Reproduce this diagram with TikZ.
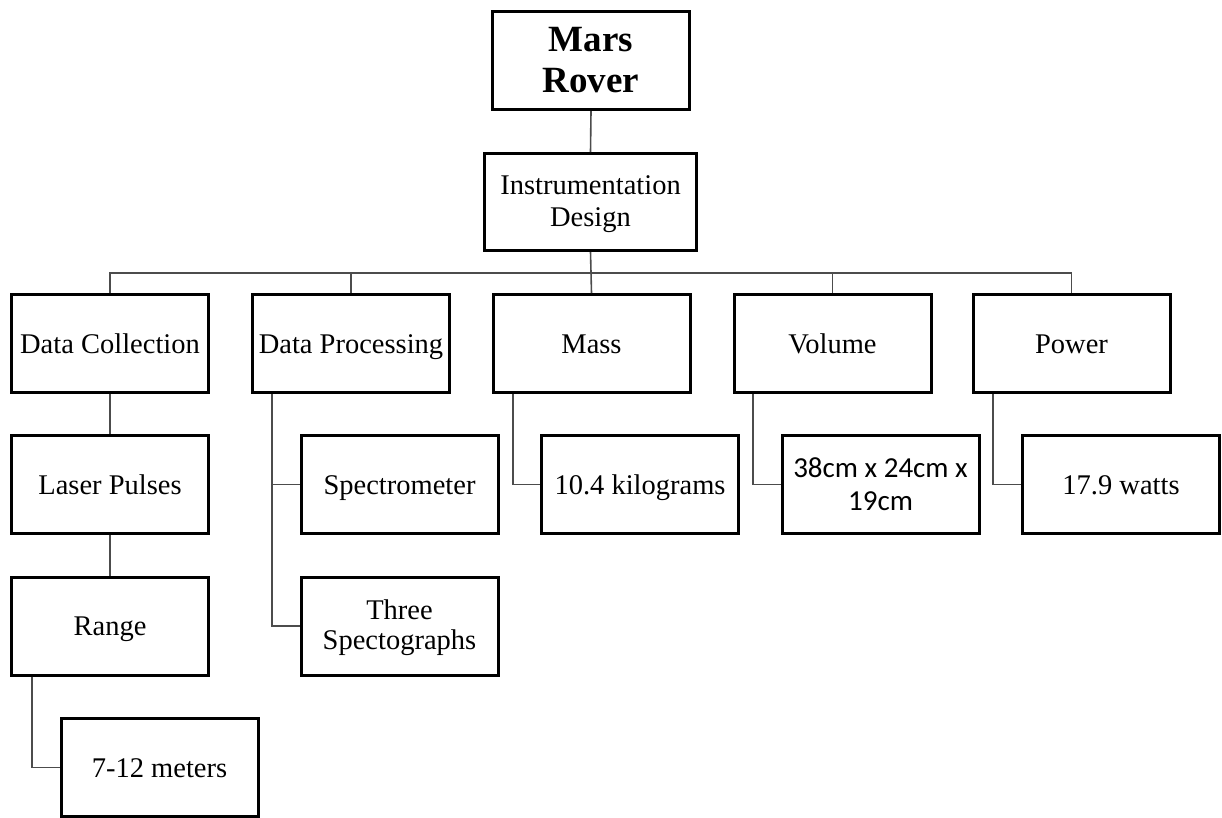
\documentclass[tikz,border=0pt]{standalone}
\usepackage{fontspec}
\setmainfont{Liberation Serif}
\newfontfamily\calib{Carlito}
\begin{document}
\begin{tikzpicture}[x=1pt,y=-1pt,
  box/.style={draw=black,line width=3pt,rectangle,inner sep=0pt,align=center,
    minimum width=197pt,minimum height=98pt,font=\fontsize{28.5}{31.5}\selectfont},
  one/.style={text height=19pt,text depth=0pt},
  conn/.style={draw=black!70,line width=1.6pt}]
\useasboundingbox (0,0) rectangle (1222,817);
% top
\node[box,minimum width=197pt,font=\fontsize{37}{41}\selectfont\bfseries] (mars) at (591,60.5) {Mars\\Rover};
\node[box,minimum width=212pt,minimum height=97pt] (instr) at (590.5,202) {};
\node[align=center,font=\fontsize{28.5}{32}\selectfont,inner sep=0pt] (instrt) at (590.5,204) {Instrumentation\\Design};
% level 2
\node[box,one] (dc) at (110,343.5) {Data Collection};
\node[box,one] (dp) at (351,343.5) {Data Processing};
\node[box,one] (mass) at (591.5,343.5) {Mass};
\node[box,one] (vol) at (832.5,343.5) {Volume};
\node[box,one] (pow) at (1071.5,343.5) {Power};
% level 3
\node[box,one] (laser) at (110,484.5) {Laser Pulses};
\node[box,one] (range) at (110,626) {Range};
\node[box,one] (meters) at (159.5,767.5) {7-12 meters};
\node[box,one] (spec) at (399.5,484.5) {Spectrometer};
\node[box] (three) at (399.5,626) {};
\node[align=center,font=\fontsize{28.5}{30}\selectfont,inner sep=0pt] (threet) at (399.5,628) {Three\\Spectographs};
\node[box,one] (kg) at (640,484.5) {10.4 kilograms};
\node[box,font=\calib\fontsize{29}{33}\selectfont] (dim) at (880.5,484.5) {38cm x 24cm x\\19cm};
\node[box,one] (watts) at (1121,484.5) {17.9 watts};
% connectors
\coordinate (bus) at (591,273);
\draw[conn] (mars.south) -- (instr.north);
\draw[conn] (instr.south) -- (mass.north);
\draw[conn] (dc.north) |- (bus) -| (pow.north);
\draw[conn] (dp.north) -- (dp.north |- bus);
\draw[conn] (vol.north) -- (vol.north |- bus);
\draw[conn] (dc.south) -- (laser.north);
\draw[conn] (laser.south) -- (range.north);
\draw[conn] ([xshift=-78pt]range.south) |- (meters.west);
\draw[conn] ([xshift=-79pt]dp.south) |- (spec.west);
\draw[conn] ([xshift=-79pt]dp.south) |- (three.west);
\draw[conn] ([xshift=-78.5pt]mass.south) |- (kg.west);
\draw[conn] ([xshift=-79.5pt]vol.south) |- (dim.west);
\draw[conn] ([xshift=-78.5pt]pow.south) |- (watts.west);
\end{tikzpicture}
\end{document}
